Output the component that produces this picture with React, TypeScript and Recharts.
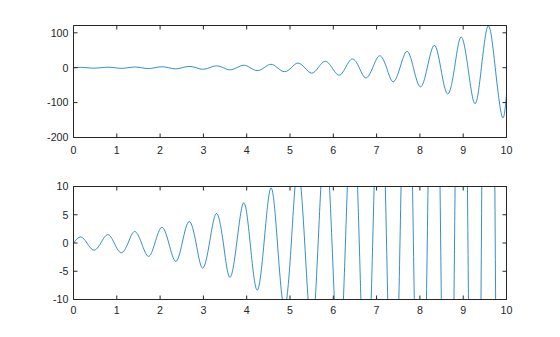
import { LineChart, Line, XAxis, YAxis } from 'recharts';

// sample points: zero crossings and the crest/trough of each swing
const sampleX = [
  0, 0.16, 0.31, 0.47, 0.63, 0.79, 0.94, 1.1, 1.26, 1.41, 1.57, 1.73, 1.88, 2.04, 2.2, 2.36,
  2.51, 2.67, 2.83, 2.98, 3.14, 3.3, 3.46, 3.61, 3.77, 3.93, 4.08, 4.24, 4.4, 4.56, 4.71, 4.87,
  5.03, 5.18, 5.34, 5.5, 5.65, 5.81, 5.97, 6.13, 6.28, 6.44, 6.6, 6.75, 6.91, 7.07, 7.23, 7.38,
  7.54, 7.7, 7.85, 8.01, 8.17, 8.33, 8.48, 8.64, 8.8, 8.95, 9.11, 9.27, 9.42, 9.58, 9.74, 9.9, 10,
];
const sampleY = [
  0, 1.08, 0, -1.27, 0, 1.48, 0, -1.73, 0, 2.03, 0, -2.37, 0, 2.77, 0, -3.25,
  0, 3.8, 0, -4.45, 0, 5.2, 0, -6.08, 0, 7.12, 0, -8.33, 0, 9.75, 0, -11.4,
  0, 13.3, 0, -15.6, 0, 18.3, 0, -21.4, 0, 25, 0, -29.3, 0, 34.3, 0, -40.1,
  0, 46.9, 0, -54.9, 0, 64.2, 0, -75.1, 0, 87.9, 0, -103, 0, 120, 0, -141, -77,
];

const xTicks = [0, 1, 2, 3, 4, 5, 6, 7, 8, 9, 10];
const topYTicks = [-200, -100, 0, 100];
const bottomYTicks = [-10, -5, 0, 5, 10];

const data = sampleX.map((x, i) => ({ x, y: sampleY[i] }));

const AXIS = '#262626';
const LINE = '#0072BD';
const FONT = '"Liberation Sans", Arial, Helvetica, sans-serif';
const FONT_SIZE = 10.7;
const TICK = 4;

const makeBottomTick = (gap: number) => (props: any) => {
  const { x, y, payload } = props;
  return (
    <g>
      <line x1={x} y1={y} x2={x} y2={y - TICK} stroke={AXIS} strokeWidth={1} />
      <text x={x} y={y + gap} textAnchor="middle" fill={AXIS} fontSize={FONT_SIZE} fontFamily={FONT}>
        {payload.value}
      </text>
    </g>
  );
};

const TopTick = (props: any) => {
  const { x, y } = props;
  return <line x1={x} y1={y} x2={x} y2={y + TICK} stroke={AXIS} strokeWidth={1} />;
};

const LeftTick = (props: any) => {
  const { x, y, payload } = props;
  return (
    <g>
      <line x1={x} y1={y} x2={x + TICK} y2={y} stroke={AXIS} strokeWidth={1} />
      <text x={x - 5} y={y + 3.8} textAnchor="end" fill={AXIS} fontSize={FONT_SIZE} fontFamily={FONT}>
        {payload.value}
      </text>
    </g>
  );
};

const RightTick = (props: any) => {
  const { x, y } = props;
  return <line x1={x} y1={y} x2={x - TICK} y2={y} stroke={AXIS} strokeWidth={1} />;
};

interface PanelProps {
  top: number;
  height: number;
  margin: { top: number; right: number; bottom: number; left: number };
  yDomain: [number, number];
  yTicks: number[];
  labelGap: number;
}

function Panel({ top, height, margin, yDomain, yTicks, labelGap }: PanelProps) {
  return (
    <div style={{ position: 'absolute', left: 0, top }}>
      <LineChart width={560} height={height} data={data} margin={margin}>
        <XAxis
          xAxisId="bottom"
          type="number"
          dataKey="x"
          domain={[0, 10]}
          ticks={xTicks}
          allowDataOverflow
          height={20}
          tickSize={0}
          tickMargin={0}
          tickLine={false}
          axisLine={{ stroke: AXIS }}
          tick={makeBottomTick(labelGap)}
          interval={0}
        />
        <XAxis
          xAxisId="top"
          orientation="top"
          type="number"
          dataKey="x"
          domain={[0, 10]}
          ticks={xTicks}
          allowDataOverflow
          height={20}
          tickSize={0}
          tickMargin={0}
          tickLine={false}
          axisLine={{ stroke: AXIS }}
          tick={TopTick}
          interval={0}
        />
        <YAxis
          yAxisId="left"
          type="number"
          domain={yDomain}
          ticks={yTicks}
          allowDataOverflow
          width={30}
          tickSize={0}
          tickMargin={0}
          tickLine={false}
          axisLine={{ stroke: AXIS }}
          tick={LeftTick}
          interval={0}
        />
        <YAxis
          yAxisId="right"
          orientation="right"
          type="number"
          domain={yDomain}
          ticks={yTicks}
          allowDataOverflow
          width={30}
          tickSize={0}
          tickMargin={0}
          tickLine={false}
          axisLine={{ stroke: AXIS }}
          tick={RightTick}
          interval={0}
        />
        <Line
          xAxisId="bottom"
          yAxisId="left"
          type="natural"
          dataKey="y"
          stroke={LINE}
          strokeWidth={0.8}
          dot={false}
          isAnimationActive={false}
        />
      </LineChart>
    </div>
  );
}

export default function App() {
  return (
    <div style={{ position: 'absolute', left: 0, top: 0, width: 560, height: 337, background: '#fff' }}>
      <Panel
        top={0}
        height={162}
        margin={{ top: 5.5, right: 23.5, bottom: 4.5, left: 43.5 }}
        yDomain={[-200, 121]}
        yTicks={topYTicks}
        labelGap={16.2}
      />
      <Panel
        top={162}
        height={175}
        margin={{ top: 4.5, right: 23.5, bottom: 17.5, left: 43.5 }}
        yDomain={[-10, 10]}
        yTicks={bottomYTicks}
        labelGap={14.2}
      />
    </div>
  );
}
